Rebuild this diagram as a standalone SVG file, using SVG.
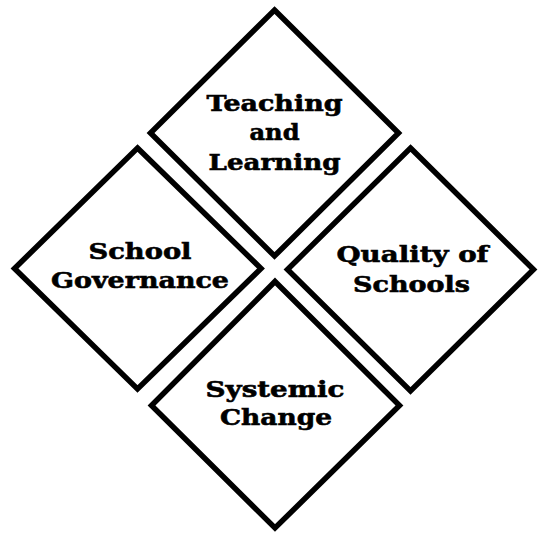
<svg xmlns="http://www.w3.org/2000/svg" width="540" height="533" viewBox="0 0 540 533">
<style>
.d{fill:#fff;stroke:#000;stroke-width:5.5;stroke-linejoin:miter}
.t{font-family:"DejaVu Serif","Liberation Serif",serif;font-weight:bold;font-size:23px;fill:#000;stroke:#000;stroke-width:0.6;text-anchor:middle}
</style>
<rect width="540" height="533" fill="#fff"/>
<g id="teaching">
<polygon class="d" points="274.5,10 398.5,133 274.5,256 150.5,133"/>
<text class="t" x="274.5" y="111" textLength="136" lengthAdjust="spacingAndGlyphs">Teaching</text>
<text class="t" x="274.5" y="140" textLength="50" lengthAdjust="spacingAndGlyphs">and</text>
<text class="t" x="274.5" y="170" textLength="132" lengthAdjust="spacingAndGlyphs">Learning</text>
</g>
<g id="governance">
<polygon class="d" points="137.5,148 261,268.5 137.5,389 14.5,268.5"/>
<text class="t" x="140" y="259" textLength="103" lengthAdjust="spacingAndGlyphs">School</text>
<text class="t" x="140" y="288" textLength="178" lengthAdjust="spacingAndGlyphs">Governance</text>
</g>
<g id="quality">
<polygon class="d" points="410.5,148 533.5,269.5 410.5,391 287.5,269.5"/>
<text class="t" x="412.5" y="262" textLength="152" lengthAdjust="spacingAndGlyphs">Quality of</text>
<text class="t" x="411.5" y="292" textLength="117" lengthAdjust="spacingAndGlyphs">Schools</text>
</g>
<g id="systemic">
<polygon class="d" points="275,281.5 399.5,405.5 275,528 151.5,405.5"/>
<text class="t" x="275" y="397" textLength="139" lengthAdjust="spacingAndGlyphs">Systemic</text>
<text class="t" x="276" y="425" textLength="112" lengthAdjust="spacingAndGlyphs">Change</text>
</g>
<g id="connectors"></g>
</svg>
